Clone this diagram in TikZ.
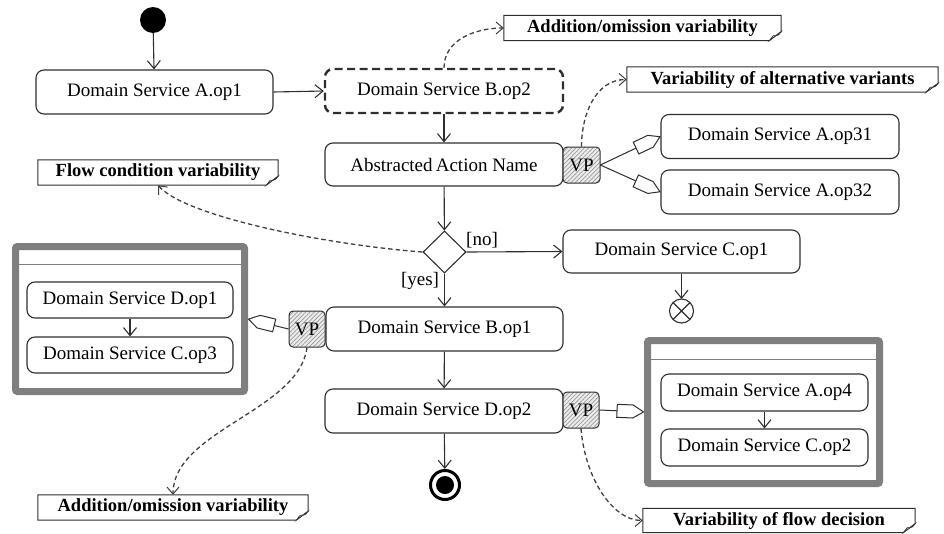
\documentclass[tikz,border=0pt]{standalone}
\usepackage{fontspec}
\setmainfont{Liberation Serif}
\usetikzlibrary{arrows.meta,shapes.geometric,patterns.meta}

% hollow "home plate" tip used for variant links
\pgfdeclarearrow{
  name = Variant,
  setup code = {
    \pgfarrowssettipend{0pt}
    \pgfarrowssetlineend{-26.5pt}
    \pgfarrowssetbackend{-27.5pt}
    \pgfarrowshullpoint{0pt}{0pt}
    \pgfarrowshullpoint{-27pt}{6.5pt}
    \pgfarrowshullpoint{-27pt}{-6.5pt}
  },
  drawing code = {
    \pgfsetdash{}{0pt}
    \pgfsetmiterjoin
    \pgfpathmoveto{\pgfqpoint{-0.5pt}{0pt}}
    \pgfpathlineto{\pgfqpoint{-11pt}{6.5pt}}
    \pgfpathlineto{\pgfqpoint{-27pt}{6.5pt}}
    \pgfpathlineto{\pgfqpoint{-27pt}{-6.5pt}}
    \pgfpathlineto{\pgfqpoint{-11pt}{-6.5pt}}
    \pgfpathclose
    \pgfsetfillcolor{white}
    \pgfusepathqfillstroke
  }
}

\definecolor{ln}{HTML}{2E2E2E}
\definecolor{grp}{HTML}{7F7F7F}
\definecolor{dsh}{HTML}{404040}

% outline of a note with a curled lower right corner
\newcommand\notedraw[1]{%
  \draw[ln, line width=1pt] (#1.north west) -- (#1.north east)
    -- ([yshift=9pt]#1.south east) -- ([xshift=-12pt]#1.south east)
    -- (#1.south west) -- cycle;
  \draw[ln, line width=0.6pt, fill=gray!45] ([yshift=9pt]#1.south east)
    .. controls ([xshift=-3pt,yshift=5pt]#1.south east) .. ([xshift=-8pt,yshift=5pt]#1.south east)
    .. controls ([xshift=-10pt,yshift=2pt]#1.south east) .. ([xshift=-12pt]#1.south east) -- cycle;
}

\begin{document}
\begin{tikzpicture}[x=1pt,y=1pt,
  actbox/.style={draw=ln, line width=1.1pt, rounded corners=8pt,
    minimum width=238pt, minimum height=44pt, inner sep=0pt,
    font=\fontsize{19}{22}\selectfont},
  innerbox/.style={actbox, minimum width=206pt, minimum height=36pt},
  vpbox/.style={draw=ln, line width=1pt, rounded corners=4pt,
    minimum width=36pt, minimum height=36pt, inner sep=0pt,
    preaction={fill=gray!15},
    pattern={Lines[angle=45,distance=3pt,line width=0.7pt]}, pattern color=gray!80,
    font=\fontsize{19}{22}\selectfont},
  grpbox/.style={draw=grp, line width=7pt, rounded corners=2pt, inner sep=0pt},
  notebox/.style={inner sep=0pt, minimum height=25pt,
    font=\fontsize{18.5}{21}\selectfont\bfseries},
  lbl/.style={inner sep=0pt, font=\fontsize{19}{22}\selectfont},
  flowline/.style={draw=ln, line width=1.1pt,
    -{Straight Barb[length=8pt,width=13pt,line width=1.1pt]}},
  varlink/.style={draw=dsh, line width=1.3pt, dash pattern=on 4.5pt off 3pt,
    -{Straight Barb[length=7pt,width=12pt,line width=1pt]}},
  varline/.style={draw=ln, line width=1pt, -Variant}
]
\useasboundingbox (0,0) rectangle (944,-533);

% main flow
\node[circle, fill=black, minimum size=26pt, inner sep=0pt] (init) at (153,-20) {};
\node[actbox, minimum width=237pt] (a1) at (154.5,-92) {Domain Service A.op1};
\node[actbox, line width=2.4pt, dash pattern=on 8pt off 4.5pt] (b2) at (444,-91) {Domain Service B.op2};
\node[actbox, minimum height=43pt] (abs) at (444,-164.5) {Abstracted\,Action Name};
\node[vpbox, minimum width=37pt] (vp1) at (581.5,-165) {VP};
\node[actbox] (a31) at (780,-136.5) {Domain Service A.op31};
\node[actbox] (a32) at (780,-192) {Domain Service A.op32};
\node[diamond, draw=ln, line width=1.1pt, minimum width=43pt, minimum height=42pt, inner sep=0pt] (dec) at (444.5,-252) {};
\node[actbox, minimum width=237pt, minimum height=43pt] (c1) at (681.5,-251.5) {Domain Service C.op1};
\node[circle, draw=ln, line width=1.1pt, minimum size=24pt, inner sep=0pt, outer sep=0pt] (ff) at (681.5,-311) {};
\draw[ln, line width=1.1pt] (ff.north east) -- (ff.south west) (ff.north west) -- (ff.south east);
\node[actbox, minimum width=237pt] (b1) at (444.5,-329) {Domain Service B.op1};
\node[vpbox] (vp2) at (307,-329) {VP};
\node[actbox] (d2) at (444,-411) {Domain Service D.op2};
\node[vpbox] (vp3) at (581,-410) {VP};
\node[circle, draw=black, line width=3pt, minimum size=29pt, inner sep=0pt] (fin) at (445,-485) {};
\fill[black] (fin.center) circle (9);

\node[lbl] (lno) at (482,-240) {[no]};
\node[lbl] (lyes) at (420,-281) {[yes]};

% variant groups
\node[grpbox, minimum width=229pt, minimum height=145pt] (grpL) at (130,-319) {};
\draw[grp, line width=1pt] ([shift={(7pt,-21pt)}]grpL.north west) -- ([shift={(-7pt,-21pt)}]grpL.north east);
\node[innerbox] (d1) at (130,-300) {Domain Service D.op1};
\node[innerbox] (c3) at (130,-355) {Domain Service C.op3};

\node[grpbox, minimum width=232pt, minimum height=143pt] (grpR) at (763.5,-412) {};
\draw[grp, line width=1pt] ([shift={(7pt,-22pt)}]grpR.north west) -- ([shift={(-7pt,-22pt)}]grpR.north east);
\node[innerbox, minimum width=207pt, minimum height=37pt] (a4) at (764.5,-392.5) {Domain Service A.op4};
\node[innerbox, minimum width=207pt, minimum height=37pt] (c2) at (764.5,-447.5) {Domain Service C.op2};

% notes
\node[notebox, minimum width=277pt] (n1) at (642.5,-28) {Addition/omission variability};
\notedraw{n1}
\node[notebox, minimum width=311pt] (n2) at (782.5,-79.5) {Variability of alternative variants};
\notedraw{n2}
\node[notebox, minimum width=240pt] (n3) at (158,-172.5) {Flow condition variability};
\notedraw{n3}
\node[notebox, minimum width=270pt] (n4) at (173,-507.5) {Addition/omission variability};
\notedraw{n4}
\node[notebox, minimum width=272pt, minimum height=24pt] (n5) at (779,-520.5) {Variability of flow decision};
\notedraw{n5}

% control flow
\draw[flowline] (init) -- (a1);
\draw[flowline] (a1.east) -- (b2.west);
\draw[flowline] (b2) -- (abs);
\draw[flowline] (abs) -- (dec);
\draw[flowline] (dec.east) -- (c1.west);
\draw[flowline] (c1) -- (ff);
\draw[flowline] (dec) -- (b1);
\draw[flowline] (b1) -- (d2);
\draw[flowline] (d2) -- (fin);
\draw[flowline] (d1) -- (c3);
\draw[flowline] (a4) -- (c2);

% variant links
\draw[varline] (vp1.east) -- (a31.west);
\draw[varline] (vp1.east) -- (a32.west);
\draw[varline] (vp2.west) -- (grpL.east);
\draw[varline] (vp3.east) -- (grpR.west);

% note links
\draw[varlink] (b2.north) to[out=90, in=180] (n1.west);
\draw[varlink] (vp1.north) to[out=90, in=180] (n2.west);
\draw[varlink] (dec.west) .. controls +(-93,7) and +(28,-32) .. (n3.south);
\draw[varlink] (vp2.south) .. controls +(-8,-63) and +(0,64) .. (n4.north);
\draw[varlink] (vp3.south) .. controls +(4,-50) and +(-30,0) .. (n5.west);
\end{tikzpicture}
\end{document}
